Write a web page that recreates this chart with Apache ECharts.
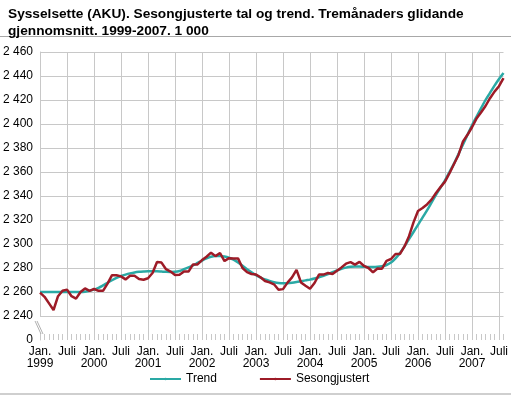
<!DOCTYPE html>
<html>
<head>
<meta charset="utf-8">
<script src="https://cdn.jsdelivr.net/npm/echarts@6/dist/echarts.min.js"></script>
<style>
  html, body { margin: 0; padding: 0; background: #fff; }
  #chart { width: 511px; height: 396px; }
</style>
</head>
<body>
<div id="chart"></div>
<script>
// år og månader (jan. 1999 - aug. 2007)
const years = [1999, 2000, 2001, 2002, 2003, 2004, 2005, 2006, 2007]
const lastMonth = 8
const yTicks = [2220, 2240, 2260, 2280, 2300, 2320, 2340, 2360, 2380, 2400, 2420, 2440, 2460]

// Trend
const trend = [
  2260, 2260, 2260, 2260, 2260, 2260, 2260, 2260, 2260, 2260, 2260.3, 2261,
  2262, 2263.5, 2265.5, 2267.7, 2269.8, 2271.7, 2273.3, 2274.5, 2275.5, 2276.3, 2276.8, 2277.1,
  2277.3, 2277.3, 2277.2, 2277, 2276.8, 2276.7, 2276.8, 2277.5, 2279, 2280.5, 2282.2, 2284.2,
  2286.2, 2288, 2289.4, 2290, 2290, 2289.5, 2288.5, 2287, 2284.7, 2281.8, 2279, 2276.4,
  2274, 2272, 2270.4, 2269.2, 2268.2, 2267.5, 2267.2, 2267.3, 2267.7, 2268.3, 2269, 2269.7,
  2270.3, 2271.2, 2272.3, 2273.5, 2275, 2276.5, 2278, 2279.3, 2280.3, 2281, 2281.3, 2281.3,
  2281, 2280.8, 2280.8, 2281, 2281.5, 2282.5, 2284.5, 2288, 2292.5, 2298, 2304, 2310,
  2316, 2322, 2328, 2334.5, 2341, 2347, 2353, 2360, 2367, 2375, 2383, 2391,
  2399, 2406, 2413, 2420, 2426, 2432, 2437.5, 2442.5
]

// Sesongjustert
const sesong = [
  2259.5, 2256, 2250.5, 2245, 2256.5, 2261, 2262, 2256.5, 2254.5, 2260, 2263, 2261,
  2262.5, 2261, 2261, 2267, 2274, 2274, 2273, 2270.5, 2273.5, 2273.5, 2270.8, 2270.2,
  2271.5, 2275.8, 2285, 2284.5, 2279, 2277, 2274.2, 2274.3, 2277, 2277, 2283, 2283,
  2286.6, 2289.4, 2292.8, 2289.9, 2292.5, 2285.8, 2288.2, 2288, 2288, 2280, 2276.5, 2275,
  2274.5, 2272.3, 2269.2, 2268, 2266.4, 2261.9, 2262.4, 2267.8, 2272.2, 2278.5, 2268, 2265.2,
  2262.7, 2267.5, 2274.5, 2274.5, 2275.9, 2275, 2277.8, 2280.5, 2283.6, 2284.9, 2282.8, 2285.1,
  2281.7, 2280, 2276.4, 2279.6, 2279.4, 2286, 2287.5, 2291.7, 2291.7, 2298, 2306.5, 2318,
  2327.5, 2330, 2333, 2337, 2342.5, 2347.4, 2352, 2359, 2366.7, 2374.2, 2385.4, 2391,
  2397.3, 2404.5, 2409.6, 2415, 2421.5, 2427, 2431.5, 2438.3
]

const months = []
years.forEach(y => {
  for (let m = 1; m <= 12; m++) {
    if (y === years[years.length - 1] && m > lastMonth) break
    months.push(y + '-' + m)
  }
})

const grey = '#c8c8c8'
const font = 'Arial, "Liberation Sans", sans-serif'

const chartDom = echarts.init(document.getElementById('chart'))

const option = {
  animation: false,
  title: {
    text: 'Sysselsette (AKU). Sesongjusterte tal og trend. Tremånaders glidande\ngjennomsnitt. 1999-2007. 1 000',
    left: 3,
    top: 1,
    textStyle: {
      fontFamily: font,
      fontSize: 13.7,
      fontWeight: 'bold',
      color: '#000',
      lineHeight: 17
    }
  },
  legend: {
    bottom: 6,
    left: 144,
    itemWidth: 31,
    itemHeight: 3,
    itemGap: 42,
    textStyle: { fontFamily: font, fontSize: 12, color: '#000' },
    data: ['Trend', 'Sesongjustert']
  },
  grid: {
    left: 40,
    right: 7,
    top: 52,
    bottom: 56
  },
  xAxis: {
    type: 'category',
    boundaryGap: false,
    data: months,
    axisLine: { show: false },
    axisTick: {
      show: true,
      inside: true,
      length: 6,
      interval: 0,
      lineStyle: { color: grey }
    },
    splitLine: {
      show: true,
      interval: (i) => i % 6 === 0,
      lineStyle: { color: grey, width: 1 }
    },
    axisLabel: {
      interval: (i) => i % 6 === 0,
      margin: 6,
      fontFamily: font,
      fontSize: 12,
      color: '#000',
      lineHeight: 12,
      formatter: (val) => {
        const [y, m] = val.split('-')
        return m === '1' ? 'Jan.\n' + y : 'Juli'
      }
    }
  },
  yAxis: {
    type: 'value',
    min: yTicks[0],
    max: yTicks[yTicks.length - 1],
    interval: 20,
    axisLine: { show: true, lineStyle: { color: grey } },
    axisTick: { show: false },
    splitLine: {
      show: true,
      lineStyle: { color: [ 'rgba(0,0,0,0)' ].concat(yTicks.slice(1).map(() => grey)), width: 1 }
    },
    axisLabel: {
      margin: 7,
      fontFamily: font,
      fontSize: 12,
      color: '#000',
      formatter: (v) => v === yTicks[0] ? '0' : String(v).replace(/\B(?=(\d{3})+(?!\d))/g, ' ')
    }
  },
  series: [
    {
      name: 'Trend',
      type: 'line',
      data: trend,
      symbol: 'none',
      smooth: 0.3,
      lineStyle: { color: '#2aa9a5', width: 2.5 },
      itemStyle: { color: '#2aa9a5' }
    },
    {
      name: 'Sesongjustert',
      type: 'line',
      data: sesong,
      symbol: 'none',
      lineStyle: { color: '#9d1b27', width: 2.5 },
      itemStyle: { color: '#9d1b27' }
    }
  ]
}

chartDom.setOption(option)

// brot i y-aksen, linjer under tittel og nedst
const xLeft = chartDom.convertToPixel({ xAxisIndex: 0 }, months[0])
const yLow = chartDom.convertToPixel({ yAxisIndex: 0 }, yTicks[1])
const yZero = chartDom.convertToPixel({ yAxisIndex: 0 }, yTicks[0])
const gapTop = yLow + 1
const gapBottom = yZero - 7

chartDom.setOption({
  graphic: [
    {
      type: 'rect',
      shape: { x: xLeft - 1.5, y: gapTop, width: 3, height: gapBottom - gapTop },
      style: { fill: '#fff' },
      z: 100
    },
    {
      type: 'line',
      shape: { x1: xLeft - 5, y1: gapTop + 4, x2: xLeft + 1, y2: gapBottom + 1 },
      style: { stroke: '#b0b0b0', lineWidth: 1 },
      z: 101
    },
    {
      type: 'line',
      shape: { x1: xLeft - 3, y1: gapTop + 4, x2: xLeft + 3, y2: gapBottom + 1 },
      style: { stroke: '#b0b0b0', lineWidth: 1 },
      z: 101
    },
    {
      type: 'line',
      shape: { x1: 0, y1: 36.5, x2: 511, y2: 36.5 },
      style: { stroke: '#a8a8a8', lineWidth: 1 }
    },
    {
      type: 'line',
      shape: { x1: 0, y1: 394, x2: 511, y2: 394 },
      style: { stroke: '#cfcfcf', lineWidth: 2 }
    }
  ]
})
</script>
</body>
</html>
